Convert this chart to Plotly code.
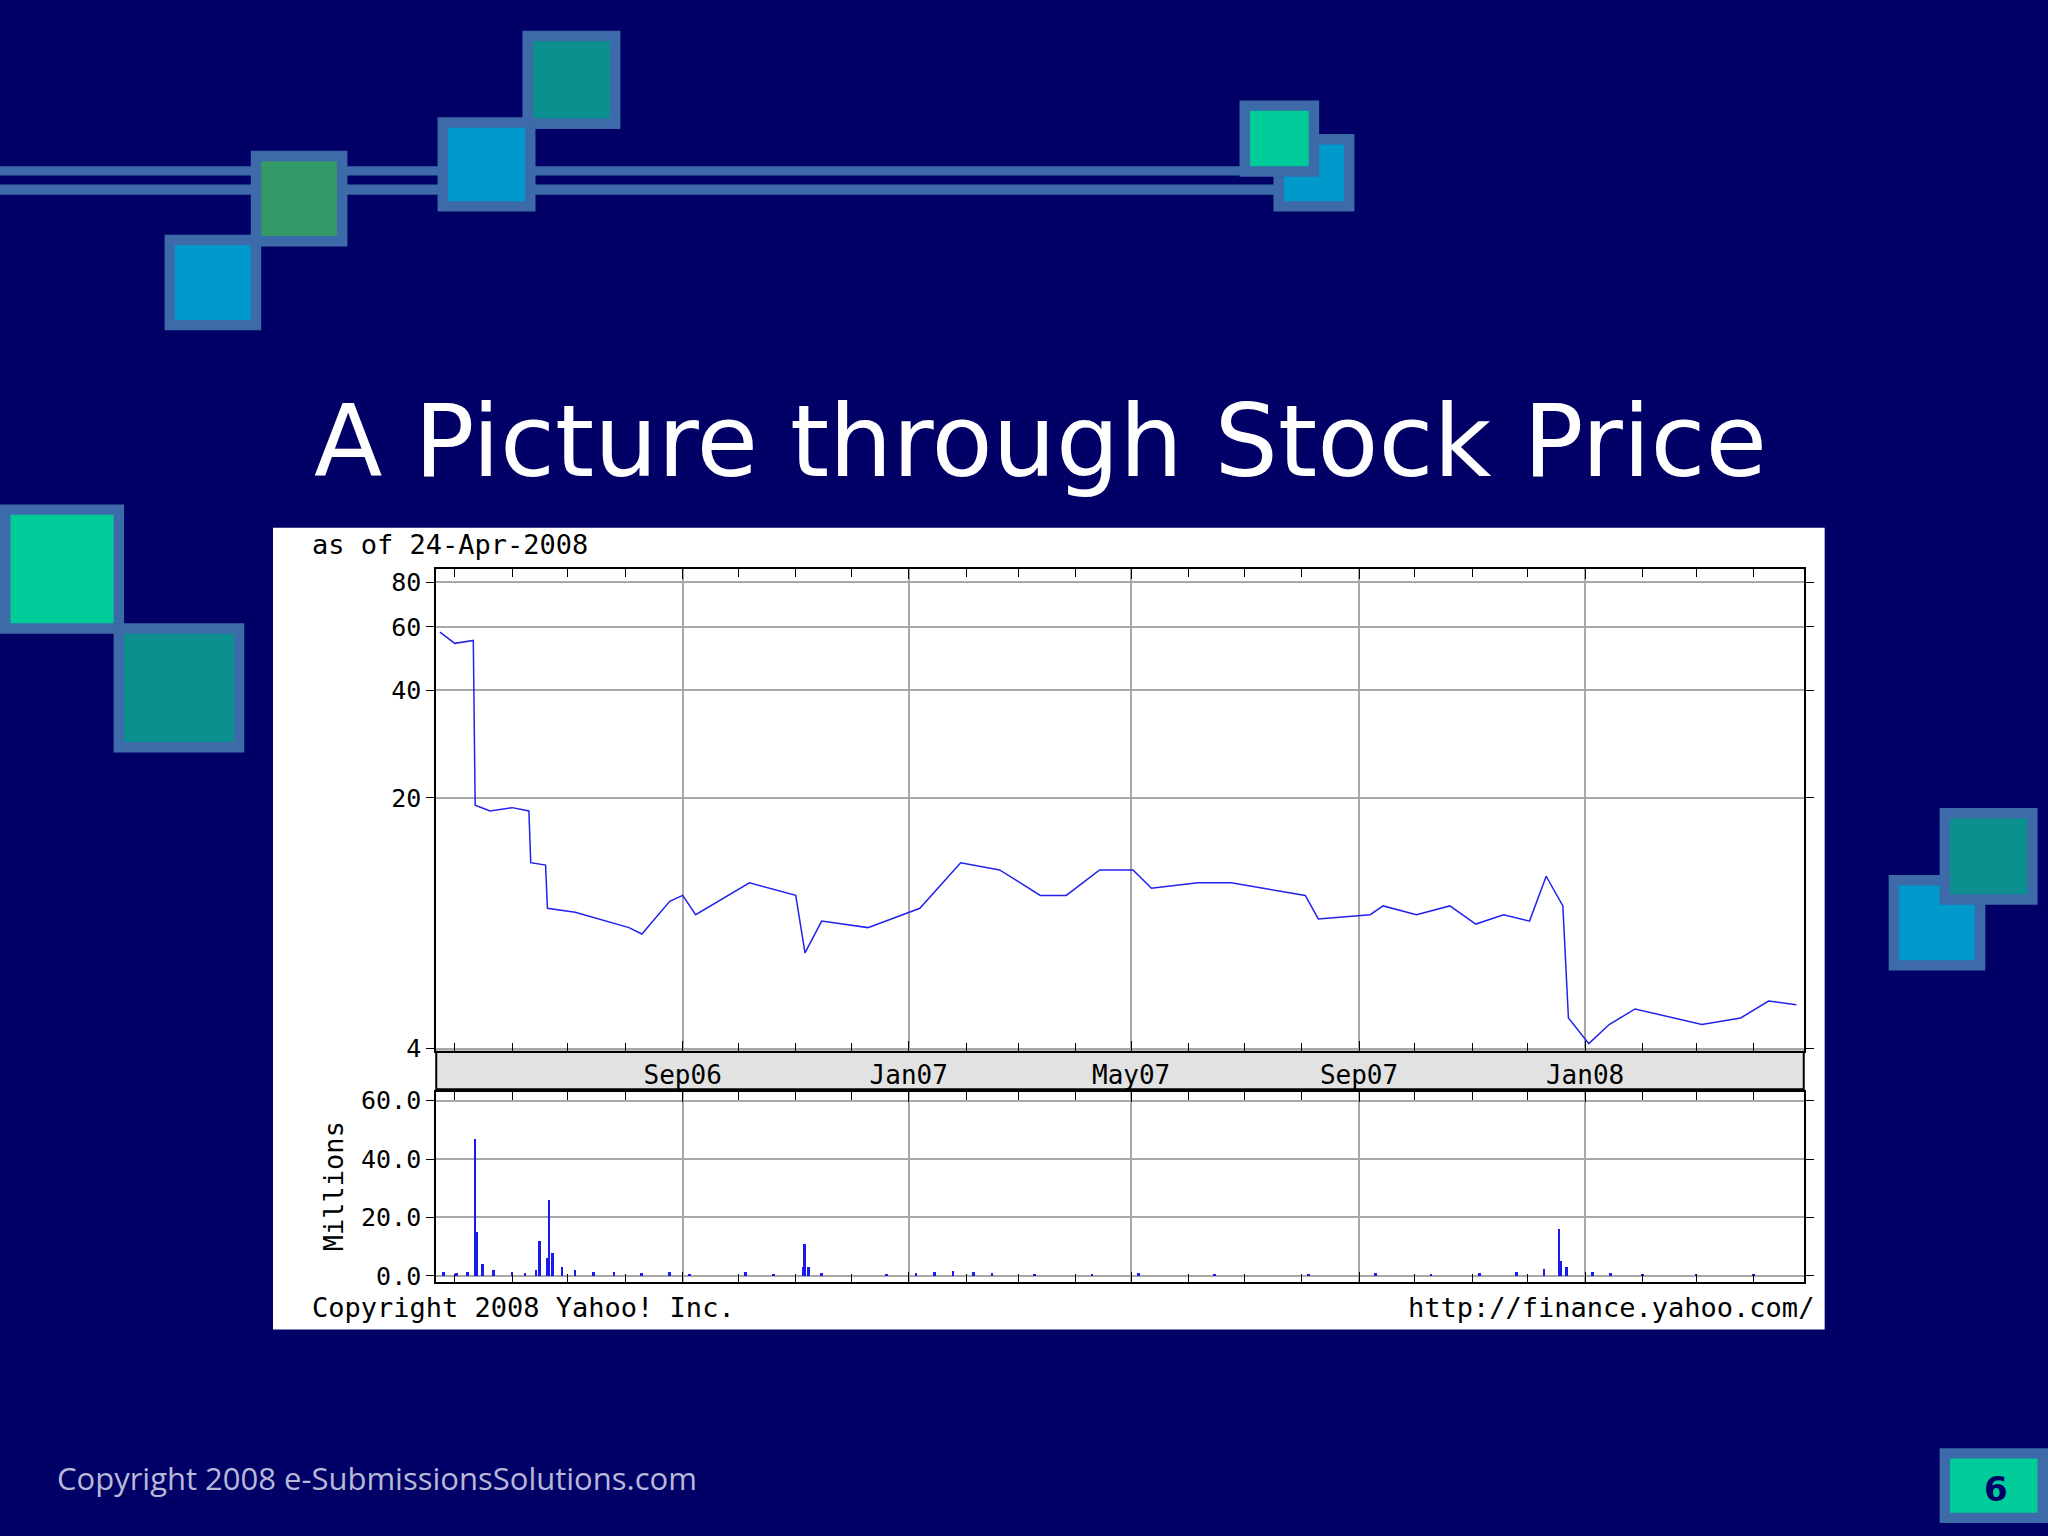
import plotly.graph_objects as go

price_dates = ["2006-04-23","2006-05-01","2006-05-11","2006-05-12","2006-05-20","2006-06-01","2006-06-10","2006-06-11",
               "2006-06-19","2006-06-20","2006-07-05","2006-08-03","2006-08-10","2006-08-25","2006-09-01","2006-09-08",
               "2006-10-07","2006-11-01","2006-11-06","2006-11-15","2006-12-10","2007-01-07","2007-01-29","2007-02-19",
               "2007-03-13","2007-03-27","2007-04-14","2007-05-02","2007-05-12","2007-06-06","2007-06-24","2007-07-12",
               "2007-08-03","2007-08-10","2007-09-07","2007-09-14","2007-10-02","2007-10-20","2007-11-03","2007-11-18",
               "2007-12-02","2007-12-11","2007-12-20","2007-12-23","2008-01-03","2008-01-14","2008-01-28","2008-03-04",
               "2008-03-25","2008-04-09","2008-04-24"]
price_vals = [58, 54, 55, 19.1, 18.4, 18.8, 18.4, 13.2,
              13.0, 9.85, 9.6, 8.7, 8.35, 10.3, 10.7, 9.45,
              11.6, 10.7, 7.4, 9.07, 8.7, 9.85, 13.2, 12.6,
              10.7, 10.7, 12.6, 12.6, 11.2, 11.6, 11.6, 11.2,
              10.7, 9.2, 9.45, 10.0, 9.45, 10.0, 8.9, 9.45,
              9.07, 12.1, 10.0, 4.87, 4.13, 4.67, 5.16, 4.67,
              4.87, 5.43, 5.3]

vol_dates = ["2006-04-25","2006-05-02","2006-05-08","2006-05-12","2006-05-13","2006-05-16","2006-05-22","2006-06-01",
             "2006-06-08","2006-06-14","2006-06-16","2006-06-20","2006-06-21","2006-06-23","2006-06-28","2006-07-05",
             "2006-07-15","2006-07-26","2006-08-10","2006-08-25","2006-09-05","2006-10-05","2006-10-20","2006-11-05",
             "2006-11-06","2006-11-08","2006-11-15","2006-12-20","2007-01-05","2007-01-15","2007-01-25","2007-02-05",
             "2007-02-15","2007-03-10","2007-04-10","2007-05-05","2007-06-15","2007-08-05","2007-09-10","2007-10-10",
             "2007-11-05","2007-11-25","2007-12-10","2007-12-18","2007-12-19","2007-12-22","2008-01-05","2008-01-15",
             "2008-02-01","2008-03-01","2008-04-01"]
vol_vals = [1.5, 1.0, 1.2, 47, 15, 4, 2, 1.5,
            1.0, 2.0, 12, 6, 26, 8, 3, 2,
            1.5, 1.2, 1.0, 1.5, 0.8, 1.2, 0.8, 3,
            11, 3, 1.0, 0.8, 1.0, 1.5, 1.8, 1.5,
            1.0, 0.8, 0.6, 1.0, 0.8, 0.6, 1.0, 0.8,
            1.0, 1.2, 2.5, 16, 5, 3, 1.5, 1.0,
            0.8, 0.6, 0.5]

date_ticks = ["2006-09-01", "2007-01-01", "2007-05-01", "2007-09-01", "2008-01-01"]
date_ticktext = ["Sep06", "Jan07", "May07", "Sep07", "Jan08"]
price_ticks = [4, 20, 40, 60, 80]
vol_ticks = [0, 20, 40, 60]
vol_ticktext = ["0.0", "20.0", "40.0", "60.0"]

W, H = 1568.0, 1176.0
def X(p): return p / W
def Y(p): return 1 - p / H

NAVY = "#000066"
BORDER = "#3d6aa8"
MONO = "DejaVu Sans Mono"

fig = go.Figure()
fig.add_trace(go.Scatter(x=price_dates, y=price_vals, mode="lines", line=dict(color="#2222ee", width=1.5),
                         xaxis="x", yaxis="y", showlegend=False))
fig.add_trace(go.Bar(x=vol_dates, y=vol_vals, marker_color="#1a1aee", marker_line_width=0, width=86400000*1.5,
                     xaxis="x2", yaxis="y2", showlegend=False))

xr = ["2006-04-21", "2008-04-28"]
common_x = dict(range=xr, type="date", showline=True, linecolor="black", linewidth=2, mirror="ticks",
                showgrid=True, gridcolor="#a8a8a8", gridwidth=2, tickvals=date_ticks,
                ticks="inside", ticklen=10, tickcolor="black",
                minor=dict(dtick="M1", tick0="2006-05-01", ticks="inside", ticklen=8, tickcolor="black", showgrid=False),
                zeroline=False)
fig.update_layout(
    width=2048, height=1536, paper_bgcolor=NAVY, plot_bgcolor="white",
    margin=dict(l=0, r=0, t=0, b=0), bargap=0,
    xaxis=dict(domain=[X(334), X(1381)], anchor="y", ticktext=date_ticktext,
               tickfont=dict(family=MONO, size=26, color="black"), **common_x),
    yaxis=dict(domain=[Y(810), Y(437)], type="log", range=[0.5966, 1.9395], tickvals=price_ticks,
               tickfont=dict(family=MONO, size=25, color="black"), showline=True, linecolor="black", linewidth=2,
               mirror="ticks", ticks="outside", ticklen=8, tickcolor="black", showgrid=True, gridcolor="#a8a8a8",
               gridwidth=2, zeroline=False),
    xaxis2=dict(domain=[X(334), X(1381)], anchor="y2", showticklabels=False, **common_x),
    yaxis2=dict(domain=[Y(989), Y(842)], range=[-2, 63], tickvals=vol_ticks, ticktext=vol_ticktext,
                tickfont=dict(family=MONO, size=25, color="black"), showline=True, linecolor="black", linewidth=2,
                mirror="ticks", ticks="outside", ticklen=8, tickcolor="black", showgrid=True, gridcolor="#a8a8a8",
                gridwidth=2, zeroline=False),
)

shapes = []
def rect(x0, y0, x1, y1, fill, line=None, lw=0, layer="below"):
    shapes.append(dict(type="rect", xref="paper", yref="paper", x0=X(x0), x1=X(x1), y0=Y(y1), y1=Y(y0),
                       fillcolor=fill, line=dict(color=line or fill, width=lw), layer=layer))

rect(0, 125, 1000, 147, BORDER)
rect(0, 132, 1000, 139, NAVY)
def sq(x0, y0, x1, y1, fill):
    rect(x0, y0, x1, y1, BORDER)
    rect(x0 + 8, y0 + 8, x1 - 8, y1 - 8, fill)
sq(400, 20, 475, 96, "#0b8f8f")
sq(335, 87, 410, 160, "#0099cc")
sq(192, 113, 266, 187, "#339966")
sq(126, 178, 200, 252, "#0099cc")
sq(975, 100, 1037, 160, "#0099cc")
sq(949, 74, 1010, 133, "#00cc99")
sq(0, 387, 95, 487, "#00cc99")
sq(87, 479, 187, 579, "#0b8f8f")
sq(1446, 674, 1520, 748, "#0099cc")
sq(1485, 622, 1560, 697, "#0b8f8f")
sq(1485, 1118, 1568, 1176, "#00cc99")
rect(209, 405, 1397, 1026, "white")
rect(334, 811, 1381, 840, "#e2e2e2", "black", 2)
fig.update_layout(shapes=shapes)

ann = [
    dict(x=X(797), y=Y(338), text="A Picture through Stock Price", font=dict(family="DejaVu Sans", size=100, color="white"),
         xanchor="center", yanchor="middle"),
    dict(x=X(237), y=Y(418), text="as of 24-Apr-2008", font=dict(family=MONO, size=27, color="black"),
         xanchor="left", yanchor="middle"),
    dict(x=X(237), y=Y(1009), text="Copyright 2008 Yahoo! Inc.", font=dict(family=MONO, size=27, color="black"),
         xanchor="left", yanchor="middle"),
    dict(x=X(1390), y=Y(1009), text="http://finance.yahoo.com/", font=dict(family=MONO, size=27, color="black"),
         xanchor="right", yanchor="middle"),
    dict(x=X(255), y=Y(915), text="Millions", textangle=-90, font=dict(family=MONO, size=27, color="black"),
         xanchor="center", yanchor="middle"),
    dict(x=X(42), y=Y(1141), text="Copyright 2008 e-SubmissionsSolutions.com", font=dict(family="Open Sans", size=31, color="#b8b8d8"),
         xanchor="left", yanchor="middle"),
    dict(x=X(1528), y=Y(1150), text="<b>6</b>", font=dict(family="DejaVu Sans", size=34, color=NAVY),
         xanchor="center", yanchor="middle"),
]
for a in ann:
    a.update(xref="paper", yref="paper", showarrow=False)
fig.update_layout(annotations=ann)

fig.write_html("out.html", config={"displayModeBar": False},
               post_script="document.body.style.margin='0';document.body.style.overflow='hidden';")
